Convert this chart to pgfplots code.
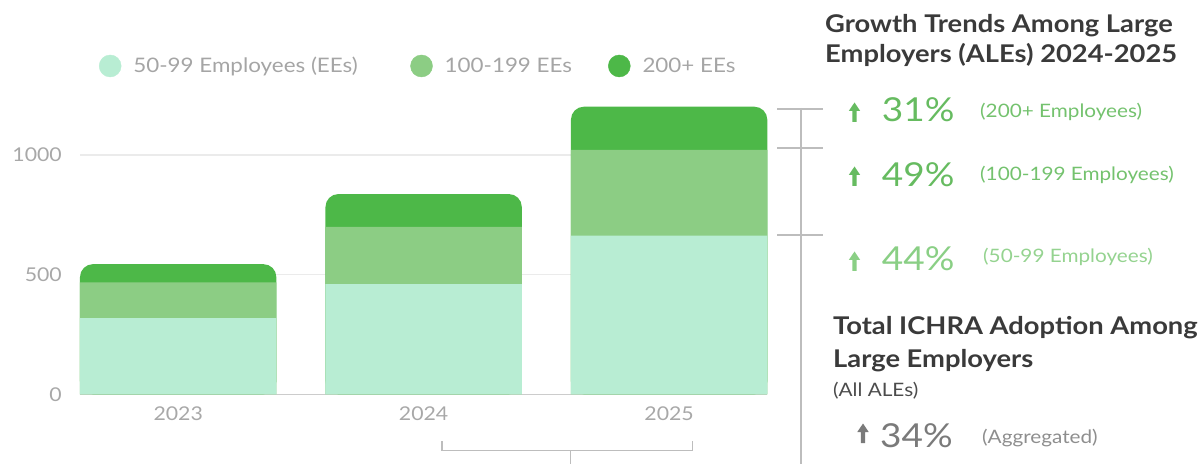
\documentclass[border=0pt]{standalone}
\usepackage{fontspec}
\setmainfont{Lato}[FakeStretch=1.12]
\usepackage{pgfplots}
\usepackage{pgfplotstable}
\pgfplotsset{compat=1.18}
\definecolor{cLight}{HTML}{B8EDD3}
\definecolor{cMed}{HTML}{8CCD84}
\definecolor{cDark}{HTML}{4DB848}
\definecolor{tickgray}{HTML}{A8A8A8}
\definecolor{leggray}{HTML}{A5A5A5}
\definecolor{titlegray}{HTML}{3A3A3A}
\definecolor{gOne}{HTML}{66BB60}
\definecolor{gOneL}{HTML}{74C26E}
\definecolor{gTwo}{HTML}{8ACF85}
\definecolor{gTwoL}{HTML}{95D390}
\definecolor{brgray}{HTML}{BDBDBD}
\definecolor{aggray}{HTML}{7A7A7A}
% cumulative bar tops
\pgfplotstableread{
x light medium total
0 318 468 544
1 460 700 837
2 663 1021 1202
}\cum
\newcommand{\uparr}[3]{%
  \fill[#3] ({#1-2.2pt},{#2}) -- ++(4.4pt,0) -- ++(0,11pt) -- ++(3.5pt,0) -- ({#1},{#2+19.5pt}) -- ({#1-5.7pt},{#2+11pt}) -- ++(3.5pt,0) -- cycle;}
\begin{document}
\begin{tikzpicture}
\useasboundingbox (0,0) rectangle (1200pt,464pt);
\begin{axis}[
  at={(80pt,69.7pt)}, anchor=south west, scale only axis,
  width=687.3pt, height=299.1pt,
  xmin=-0.4, xmax=2.4, ymin=0, ymax=1250,
  axis line style={draw=none}, major tick length=0pt,
  xtick={0,1,2}, xticklabels={2023,2024,2025},
  ytick={500,1000}, extra y ticks={0},
  extra y tick style={grid style={color=black!20, line width=1.2pt}},
  ymajorgrids, grid style={color=black!8, line width=1.2pt},
  tick label style={font=\fontsize{19}{20}\selectfont, text=tickgray, inner sep=0pt},
  yticklabel style={xshift=-18pt},
  xticklabel style={yshift=-12.5pt},
  /pgf/number format/assume math mode=true, /pgf/number format/1000 sep={},
  legend style={at={(axis description cs:0.0276,1.0977)}, anchor=west, draw=none, fill=none,
    inner sep=0pt, outer sep=0pt, font=\fontsize{20}{22}\selectfont, text=leggray,
    nodes={inner sep=0pt},
    /tikz/every odd column/.append style={column sep=12pt},
    /tikz/column 2/.style={column sep=52.5pt},
    /tikz/column 4/.style={column sep=36pt}},
  legend columns=3,
]
\addlegendimage{legend image code/.code={\fill[cLight] (0pt,0pt) circle (11pt);}}
\addlegendentry{50-99 Employees (EEs)}
\addlegendimage{legend image code/.code={\fill[cMed] (0pt,0pt) circle (11pt);}}
\addlegendentry{100-199 EEs}
\addlegendimage{legend image code/.code={\fill[cDark] (0pt,0pt) circle (11pt);}}
\addlegendentry{200+ EEs}
\addplot[ybar, bar width=0.8, bar shift=0pt, fill=cDark, draw=none, rounded corners=13pt, forget plot] table[x=x,y=total]{\cum};
\addplot[ybar, bar width=0.8, bar shift=0pt, fill=cMed, draw=none, forget plot] table[x=x,y=medium]{\cum};
\addplot[ybar, bar width=0.8, bar shift=0pt, fill=cLight, draw=none, forget plot] table[x=x,y=light]{\cum};
\end{axis}
% brackets
\draw[brgray, line width=1.3pt] (801pt,356pt) -- (801pt,0pt);
\draw[brgray, line width=1.3pt] (777pt,355pt) -- (823pt,355pt);
\draw[brgray, line width=1.3pt] (777pt,316pt) -- (823pt,316pt);
\draw[brgray, line width=1.3pt] (777pt,229pt) -- (823pt,229pt);
\draw[brgray, line width=1.3pt] (442pt,23pt) -- (442pt,13.3pt) -- (692.7pt,13.3pt) -- (692.7pt,23pt);
\draw[brgray, line width=1.3pt] (570.7pt,13.3pt) -- (570.7pt,0pt);
% titles
\node[anchor=base west, inner sep=0pt, text=titlegray, font=\bfseries\fontsize{24.4}{28}\selectfont] at (825pt,431pt) {Growth Trends Among Large};
\node[anchor=base west, inner sep=0pt, text=titlegray, font=\bfseries\fontsize{24.4}{28}\selectfont] at (825pt,401pt) {Employers (ALEs) 2024-2025};
% growth rows
\uparr{854.5pt}{342pt}{gOne}
\node[anchor=base west, inner sep=0pt, text=gOne, font=\fontsize{33}{36}\selectfont] at (881.7pt,342.3pt) {31\%};
\node[anchor=base west, inner sep=0pt, text=gOneL, font=\fontsize{18.5}{20}\selectfont] at (980pt,346.5pt) {(200+ Employees)};
\uparr{854.5pt}{278pt}{gOne}
\node[anchor=base west, inner sep=0pt, text=gOne, font=\fontsize{33}{36}\selectfont] at (881.7pt,277.3pt) {49\%};
\node[anchor=base west, inner sep=0pt, text=gOneL, font=\fontsize{18.5}{20}\selectfont] at (980pt,283.5pt) {(100-199 Employees)};
\uparr{854.5pt}{193pt}{gTwo}
\node[anchor=base west, inner sep=0pt, text=gTwo, font=\fontsize{33}{36}\selectfont] at (881.7pt,193pt) {44\%};
\node[anchor=base west, inner sep=0pt, text=gTwoL, font=\fontsize{18.5}{20}\selectfont] at (983pt,201.5pt) {(50-99 Employees)};
% total
\node[anchor=base west, inner sep=0pt, text=titlegray, font=\bfseries\fontsize{24.4}{28}\selectfont] at (833pt,129pt) {Total ICHRA Adoption Among};
\node[anchor=base west, inner sep=0pt, text=titlegray, font=\bfseries\fontsize{24.4}{28}\selectfont] at (833pt,97pt) {Large Employers};
\node[anchor=base west, inner sep=0pt, text=black!70, font=\fontsize{18.5}{20}\selectfont] at (833pt,68pt) {(All ALEs)};
\uparr{863pt}{21pt}{aggray}
\node[anchor=base west, inner sep=0pt, text=aggray, font=\fontsize{33}{36}\selectfont] at (880pt,17pt) {34\%};
\node[anchor=base west, inner sep=0pt, text=aggray!85, font=\fontsize{18.5}{20}\selectfont] at (982pt,21pt) {(Aggregated)};
\end{tikzpicture}
\end{document}
